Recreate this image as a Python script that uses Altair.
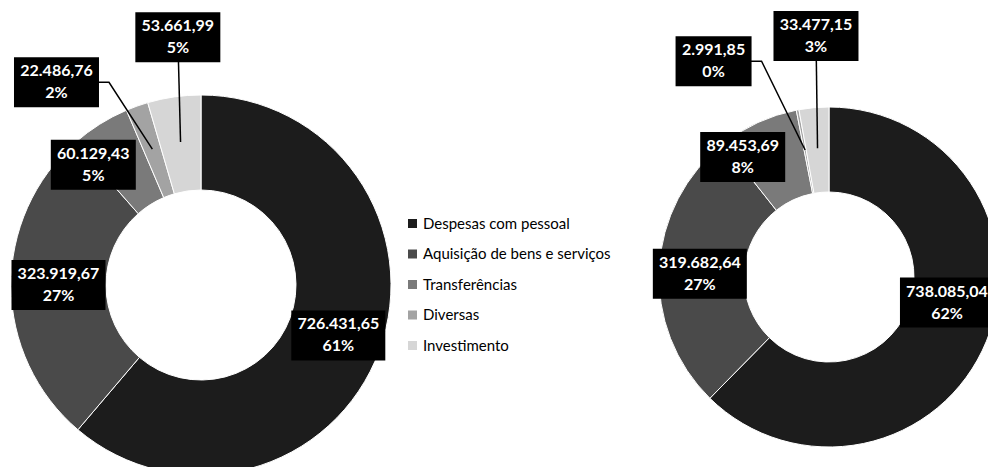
import math
import altair as alt
import pandas as pd

# ---- data ----
categories = ["Despesas com pessoal", "Aquisição de bens e serviços",
              "Transferências", "Diversas", "Investimento"]
values_left = [726431.65, 323919.67, 60129.43, 22486.76, 53661.99]
values_right = [738085.04, 319682.64, 89453.69, 2991.85, 33477.15]

# ---- styles / layout ----
colors = ["#1c1c1c", "#4a4a4a", "#7a7a7a", "#a3a3a3", "#d6d6d6"]
W, H = 980, 459
donuts = [
    dict(name="left", values=values_left, cx=193, cy=277, R=190, r=95,
         lab_rf=[0.77, 0.75, 0.85, 1.31, 1.31],
         lab_dt=[0, 0.5, -9.6, -15.8, 2.8]),
    dict(name="right", values=values_right, cx=821, cy=269, R=170, r=85,
         lab_rf=[0.71, 0.76, 0.87, 1.44, 1.42],
         lab_dt=[-10, -1.7, -11, -17.5, 2]),
]
has_leader = [False, False, False, True, True]
has_elbow = [False, False, False, True, False]
LINE_H = 22


def fmt(v):
    s = f"{v:,.2f}"
    return s.replace(",", "X").replace(".", ",").replace("X", ".")


def polar(cx, cy, rad, deg):
    t = math.radians(deg)
    return cx + rad * math.sin(t), cy - rad * math.cos(t)


layers = []
legend = alt.Legend(title=None, orient="none", legendX=397, legendY=208,
                    symbolType="square", symbolSize=81, symbolStrokeWidth=0,
                    labelFont="Lato", labelFontSize=15, labelColor="#000000",
                    labelLimit=400, rowPadding=14.5, labelOffset=3)
box_rows, text_rows, line_rows = [], [], []

for d in donuts:
    vals = d["values"]
    total = sum(vals)
    df = pd.DataFrame({"cat": categories, "value": vals,
                       "frac": [v / total for v in vals],
                       "idx": list(range(len(vals)))})
    arc = alt.Chart(df).mark_arc(innerRadius=d["r"], outerRadius=d["R"],
                                 stroke="white", strokeWidth=1).encode(
        theta=alt.Theta("frac:Q", stack=True),
        order=alt.Order("idx:Q"),
        color=alt.Color("cat:N", scale=alt.Scale(domain=categories, range=colors),
                        legend=legend),
        x=alt.value(d["cx"]), y=alt.value(d["cy"]),
    )
    layers.append(arc)

    cum = 0.0
    for i, v in enumerate(vals):
        f = v / total
        mid = (cum + f / 2) * 360
        cum += f
        ang = mid + d["lab_dt"][i]
        lx, ly = polar(d["cx"], d["cy"], d["lab_rf"][i] * d["R"], ang)
        s = fmt(v)
        nd = sum(c.isdigit() for c in s)
        npn = len(s) - nd
        w = 9 * nd + 4 * npn + 14
        h = 50
        path = f"M{-w/2},{-h/2}H{w/2}V{h/2}H{-w/2}Z"
        key = f"{d['name']}{i}"
        box_rows.append({"key": key, "x": lx, "y": ly, "path": path})
        text_rows.append({"key": key, "x": lx, "y": ly,
                          "label": f"{s}\n{round(f * 100)}%"})
        if has_leader[i]:
            ex, ey = polar(d["cx"], d["cy"], 0.76 * d["R"], mid)
            pts = [(lx, ly)]
            if has_elbow[i]:
                pts.append((lx + w / 2 + 10, ly))
            pts.append((ex, ey))
            for j, (px, py) in enumerate(pts):
                line_rows.append({"key": key, "seq": j, "x": px, "y": py})

lines = alt.Chart(pd.DataFrame(line_rows)).mark_line(color="#000000", strokeWidth=1.5).encode(
    x=alt.X("x:Q", scale=None), y=alt.Y("y:Q", scale=None),
    detail="key:N", order="seq:Q")
boxes = alt.Chart(pd.DataFrame(box_rows)).mark_point(
    filled=True, fill="#000000", opacity=1, strokeWidth=0).encode(
    x=alt.X("x:Q", scale=None), y=alt.Y("y:Q", scale=None),
    shape=alt.Shape("path:N", scale=None), size=alt.value(4))
texts = alt.Chart(pd.DataFrame(text_rows)).mark_text(
    color="white", font="Lato", fontWeight="bold", fontSize=16,
    lineBreak="\n", lineHeight=LINE_H, align="center", baseline="middle",
    dy=-LINE_H / 2).encode(
    x=alt.X("x:Q", scale=None), y=alt.Y("y:Q", scale=None), text="label:N")

chart = alt.layer(*layers, lines, boxes, texts).resolve_scale(
    theta="independent").properties(
    width=W, height=H, autosize=alt.AutoSizeParams(type="none"), padding=0,
    background="white").configure_view(strokeWidth=0)

chart.save("out.html", embed_options={"renderer": "svg", "actions": False})
